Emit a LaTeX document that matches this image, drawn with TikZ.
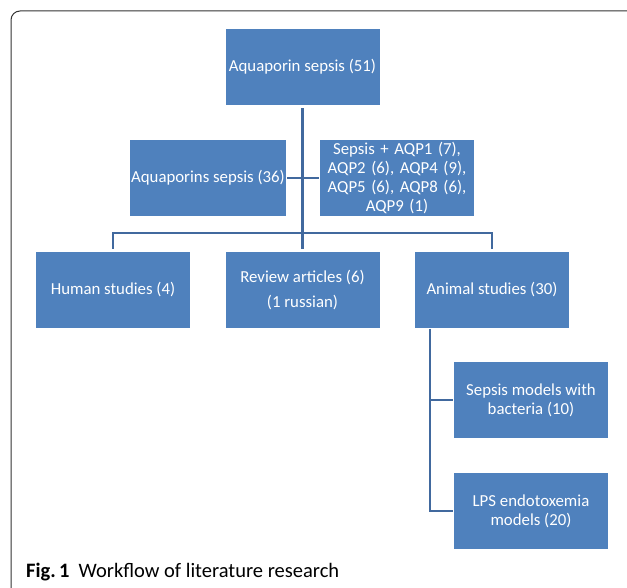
\documentclass[tikz,border=0pt]{standalone}
\usepackage{fontspec}
\setmainfont{Carlito}
\usetikzlibrary{positioning}
\definecolor{boxblue}{HTML}{4F81BD}
\definecolor{linkblue}{HTML}{41699E}

\begin{document}
\begin{tikzpicture}[x=1pt,y=-1pt,
  box/.style={fill=boxblue,text=white,minimum width=154pt,minimum height=76pt,
    inner sep=1pt,align=center,font=\fontsize{16.8}{18.7}\selectfont},
  link/.style={draw=linkblue,line width=2.3pt}]
\useasboundingbox (0,0) rectangle (627,588);
\clip (0,0) rectangle (627,588);
%frame
\draw[line width=1pt,color=black!80,rounded corners=9pt] (11,620) -- (11,11) -- (640,11);

%top level
\node[box] (all) at (302.5,67) {Aquaporin sepsis (51)};
\node[box] (aqps) at (208,178) {Aquaporins sepsis (36)};
\node[box,text width=152pt] (aqpx) at (397,178) {Sepsis + AQP1 (7),\\ AQP2 (6), AQP4 (9),\\ AQP5 (6), AQP8 (6),\\ AQP9 (1)};

%second level
\node[box] (human) at (113,290) {Human studies (4)};
\node[box] (review) at (302.5,290) {Review articles (6)\\[7pt](1 russian)};
\node[box] (animal) at (492,290) {Animal studies (30)};

%animal models
\node[box] (bact) at (531,400) {Sepsis models with\\ bacteria (10)};
\node[box] (lps) at (531,511) {LPS endotoxemia\\ models (20)};

%links
\coordinate (bar) at (302.5,233);
\coordinate (fork) at (430,329);
\draw[link,shorten <=3pt] (all.south) -- (bar);
\draw[link,shorten >=3pt] (bar) -- (review.north);
\draw[link,shorten <=3pt,shorten >=3pt] (human.north) |- (bar) -| (animal.north);
\draw[link,shorten <=1pt,shorten >=1pt] (aqps.east) -- (aqpx.west);
\draw[link,shorten >=1pt] (fork) |- (bact.west);
\draw[link,shorten >=1pt] (fork) |- (lps.west);

%caption
\node[anchor=west,inner sep=0pt,font=\fontsize{20.5}{24}\selectfont] (cap) at (26,572)
  {\textbf{Fig.\,1}\hspace{9pt}Workflow of literature research};
\end{tikzpicture}
\end{document}
